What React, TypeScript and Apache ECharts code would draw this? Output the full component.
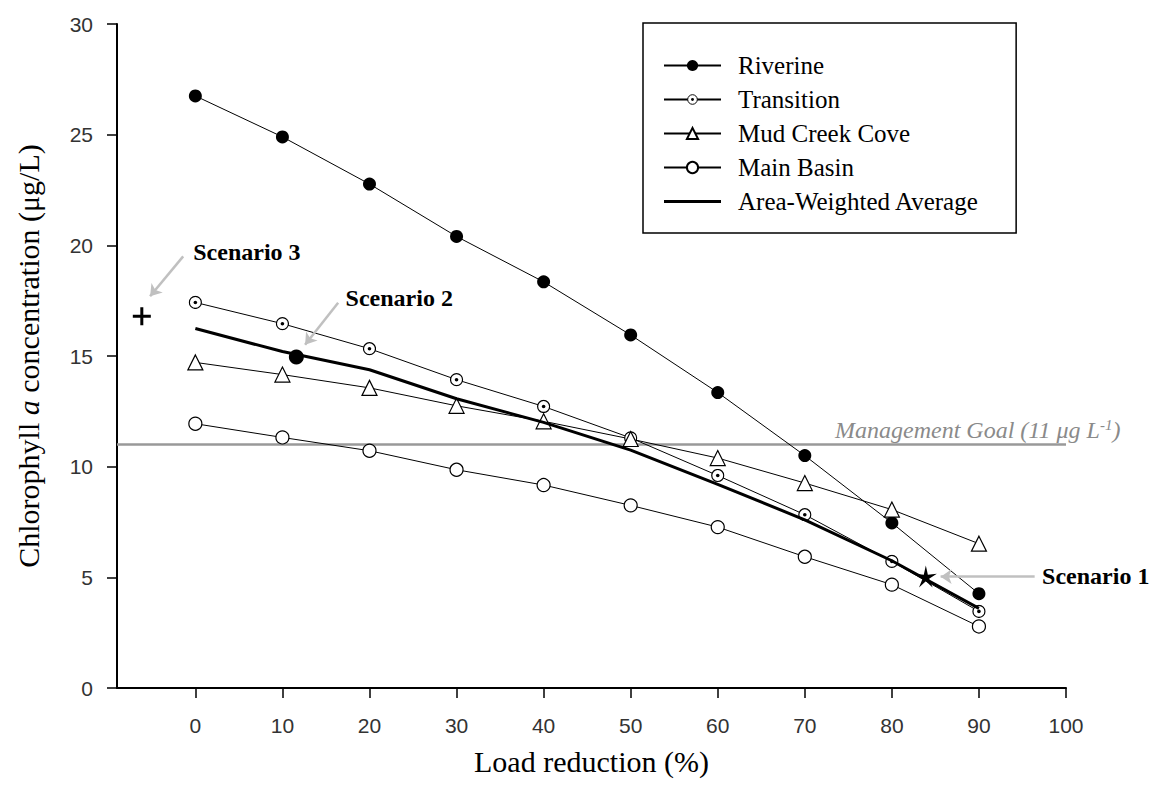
import React, { useEffect, useRef } from "react";
import * as echarts from "echarts";

// ---- data ----
const loadReduction = [0, 10, 20, 30, 40, 50, 60, 70, 80, 90];
const riverine = [26.75, 24.9, 22.77, 20.4, 18.35, 15.95, 13.35, 10.5, 7.46, 4.26];
const transition = [17.42, 16.46, 15.33, 13.93, 12.72, 11.3, 9.6, 7.83, 5.72, 3.46];
const mudCreekCove = [14.71, 14.16, 13.56, 12.75, 12.05, 11.25, 10.39, 9.26, 8.06, 6.52];
const mainBasin = [11.94, 11.32, 10.72, 9.86, 9.17, 8.25, 7.27, 5.93, 4.67, 2.78];
const areaWeighted = [16.24, 15.2, 14.38, 13.07, 12.0, 10.75, 9.2, 7.6, 5.75, 3.6];
const managementGoal = 11;

const seriesNames = ["Riverine", "Transition", "Mud Creek Cove", "Main Basin", "Area-Weighted Average"];

const scenarioNames = ["Scenario 3", "Scenario 2", "Scenario 1"];
const scenarioX = [-6.15, 11.6, 83.9];
const scenarioY = [16.8, 14.96, 5.04];
// annotation label anchors (data coords) and arrow start/end (data coords)
const labelX = [-0.3, 17.2, 97.2];
const labelY = [19.72, 17.64, 5.07];
const arrowFromX = [-1.4, 16.4, 96.4];
const arrowFromY = [19.5, 17.41, 5.03];
const arrowToX = [-5.2, 12.6, 85.6];
const arrowToY = [17.7, 15.51, 5.03];

const xTicks = [0, 10, 20, 30, 40, 50, 60, 70, 80, 90, 100];

const SERIF = "'Liberation Serif', 'Times New Roman', serif";
const SANS = "'Liberation Sans', Arial, sans-serif";

const ringDot =
  "image://data:image/svg+xml;utf8," +
  encodeURIComponent(
    '<svg xmlns="http://www.w3.org/2000/svg" width="28" height="28" viewBox="0 0 28 28"><circle cx="14" cy="14" r="12" fill="white" stroke="black" stroke-width="2.4"/><circle cx="14" cy="14" r="3.6" fill="black"/></svg>'
  );
const plusPath = "path://M5,0H7V5H12V7H7V12H5V7H0V5H5Z";
const starPath =
  "path://M10,0 L11.76,7.57 L19.51,6.91 L12.85,10.93 L15.88,18.09 L10,13 L4.12,18.09 L7.15,10.93 L0.49,6.91 L8.24,7.57 Z";
const thickLineIcon = "path://M0,0 L100,0 L100,5.5 L0,5.5 Z";

export default function App() {
  const ref = useRef<HTMLDivElement>(null);

  useEffect(() => {
    document.body.style.margin = "0";
    if (!ref.current) return;
    const chart = echarts.init(ref.current, undefined, { renderer: "svg" });

    const pair = (ys: number[]) => loadReduction.map((x, i) => [x, ys[i]]);
    const baseLine = { color: "#000", width: 1 };

    const scenarioSymbols = [
      { symbol: plusPath, symbolSize: 18 },
      { symbol: "circle", symbolSize: 15 },
      { symbol: starPath, symbolSize: 22 },
    ];

    const option: any = {
      animation: false,
      backgroundColor: "#fff",
      grid: { left: 117, right: 92, top: 24, bottom: 110, containLabel: false, outerBoundsMode: "none" },
      legend: {
        orient: "vertical",
        left: 643,
        top: 23,
        data: seriesNames.map((n) =>
          n === "Area-Weighted Average" ? { name: n, icon: thickLineIcon } : { name: n }
        ),
        itemWidth: 57,
        itemHeight: 14,
        itemGap: 9,
        padding: [30, 37, 19, 20],
        borderColor: "#000",
        borderWidth: 1.5,
        backgroundColor: "#fff",
        textStyle: { fontFamily: SERIF, fontSize: 25, color: "#000", lineHeight: 20, padding: [0, 0, 0, 12] },
      },
      xAxis: {
        type: "value",
        min: -9,
        max: 100,
        name: "Load reduction (%)",
        nameLocation: "middle",
        nameGap: 58,
        nameTextStyle: { fontFamily: SERIF, fontSize: 30, color: "#000" },
        axisLine: { onZero: false, lineStyle: { color: "#000", width: 2 } },
        axisTick: { show: true, length: 10, customValues: xTicks, lineStyle: { color: "#000", width: 1.5 } },
        axisLabel: { customValues: xTicks, margin: 27, fontFamily: SANS, fontSize: 21, color: "#333" },
        splitLine: { show: false },
      },
      yAxis: {
        type: "value",
        min: 0,
        max: 30,
        interval: 5,
        name: "Chlorophyll {i|a} concentration (μg/L)",
        nameLocation: "middle",
        nameGap: 74,
        nameTextStyle: {
          fontFamily: SERIF,
          fontSize: 30,
          color: "#000",
          rich: { i: { fontFamily: SERIF, fontSize: 30, fontStyle: "italic", color: "#000" } },
        },
        axisLine: { show: true, onZero: false, lineStyle: { color: "#000", width: 2 } },
        axisTick: { show: true, length: 10, lineStyle: { color: "#000", width: 1.5 } },
        axisLabel: { margin: 24, fontFamily: SANS, fontSize: 21, color: "#333" },
        splitLine: { show: false },
      },
      graphic: [
        {
          type: "text",
          left: 835,
          top: 417,
          z: 10,
          style: {
            text: "Management Goal (11 μg L{sup|-1})",
            fontFamily: SERIF,
            fontSize: 24,
            fontStyle: "italic",
            fill: "#8a8a8a",
            rich: {
              sup: { fontFamily: SERIF, fontSize: 15, fontStyle: "italic", fill: "#8a8a8a", color: "#8a8a8a", verticalAlign: "top", padding: [0, 0, 10, 0] },
            },
          },
        },
      ],
      series: [
        {
          name: "Riverine",
          type: "line",
          data: pair(riverine),
          symbol: "circle",
          symbolSize: 13,
          itemStyle: { color: "#000" },
          lineStyle: baseLine,
          z: 3,
          markLine: {
            silent: true,
            symbol: "none",
            z: 1,
            label: { show: false },
            lineStyle: { color: "#999", width: 2.5, type: "solid" },
            data: [{ yAxis: managementGoal }],
          },
        },
        {
          name: "Transition",
          type: "line",
          data: pair(transition),
          symbol: ringDot,
          symbolSize: 14,
          itemStyle: { color: "#000" },
          lineStyle: baseLine,
          z: 3,
        },
        {
          name: "Mud Creek Cove",
          type: "line",
          data: pair(mudCreekCove),
          symbol: "triangle",
          symbolSize: 15,
          itemStyle: { color: "#fff", borderColor: "#000", borderWidth: 1.2 },
          lineStyle: baseLine,
          z: 3,
        },
        {
          name: "Main Basin",
          type: "line",
          data: pair(mainBasin),
          symbol: "circle",
          symbolSize: 13,
          itemStyle: { color: "#fff", borderColor: "#000", borderWidth: 1.2 },
          lineStyle: baseLine,
          z: 3,
        },
        {
          name: "Area-Weighted Average",
          type: "line",
          data: pair(areaWeighted),
          symbol: "none",
          itemStyle: { color: "#000" },
          lineStyle: { color: "#000", width: 3 },
          z: 4,
        },
        {
          name: "Scenarios",
          type: "scatter",
          z: 5,
          itemStyle: { color: "#000", opacity: 1 },
          data: scenarioX.map((x, i) => ({
            value: [x, scenarioY[i]],
            symbol: scenarioSymbols[i].symbol,
            symbolSize: scenarioSymbols[i].symbolSize,
          })),
        },
        {
          name: "Scenario labels",
          type: "scatter",
          z: 6,
          symbolSize: 1,
          itemStyle: { color: "rgba(0,0,0,0)", opacity: 1 },
          label: {
            show: true,
            position: "right",
            distance: 0,
            formatter: "{b}",
            fontFamily: SERIF,
            fontWeight: "bold",
            fontSize: 24,
            color: "#000",
            opacity: 1,
          },
          data: scenarioNames.map((n, i) => ({ name: n, value: [labelX[i], labelY[i]] })),
          markLine: {
            silent: true,
            symbol: ["none", "arrow"],
            symbolSize: 11,
            label: { show: false },
            lineStyle: { color: "#c0c0c0", width: 2.5, type: "solid", opacity: 1 },
            itemStyle: { color: "#c0c0c0" },
            data: scenarioNames.map((_, i) => [
              { coord: [arrowFromX[i], arrowFromY[i]] },
              { coord: [arrowToX[i], arrowToY[i]] },
            ]),
          },
        },
      ],
    };

    chart.setOption(option);
    return () => chart.dispose();
  }, []);

  return <div ref={ref} style={{ width: 1158, height: 798 }} />;
}
